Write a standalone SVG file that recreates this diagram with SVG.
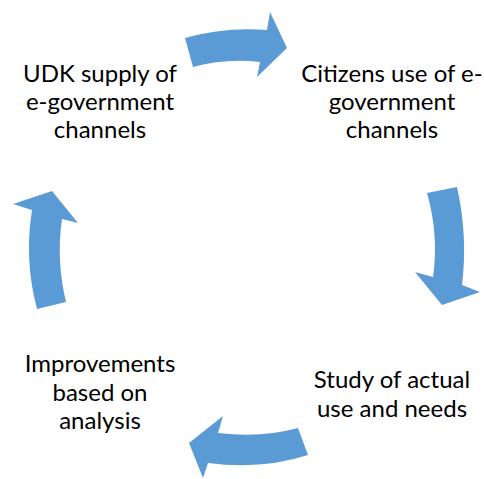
<svg xmlns="http://www.w3.org/2000/svg" width="484" height="479" viewBox="0 0 484 479">
<style>
.lbl{font-family:Lato,"Open Sans","Liberation Sans",sans-serif;font-size:24px;fill:#000;text-anchor:middle}
.arr{fill:#5B9BD5}
</style>
<rect width="484" height="479" fill="#fff"/>
<g id="connectors">
<path class="arr" d="M185,38 Q224,27 267,30 L270,12 L287,48 L257,77 L260,62 Q226,58 193,67 Z"/>
<path class="arr" d="M427,193 L457,187 Q468,236 462,285 L480,292 L442,305 L415,272 L433,277 Q439,235 427,193 Z"/>
<path class="arr" d="M298,428 L308,455 Q262,470 208,463 L203,478 L189,443 L223,416 L218,433 Q262,438 298,428 Z"/>
<path class="arr" d="M37,309 L66,302 Q56,260 62,219 L78,223 L52,191 L13,204 L32,210 Q24,260 37,309 Z"/>
</g>
<g id="n1"><text class="lbl" x="100" y="82">UDK supply of</text><text class="lbl" x="100" y="110">e-government</text><text class="lbl" x="100" y="138">channels</text></g>
<g id="n2"><text class="lbl" x="392" y="82">Citizens use of e-</text><text class="lbl" x="392" y="110">government</text><text class="lbl" x="392" y="138">channels</text></g>
<g id="n3"><text class="lbl" x="392" y="388">Study of actual</text><text class="lbl" x="392" y="417">use and needs</text></g>
<g id="n4"><text class="lbl" x="100" y="372">Improvements</text><text class="lbl" x="100" y="401">based on</text><text class="lbl" x="100" y="429">analysis</text></g>
</svg>
